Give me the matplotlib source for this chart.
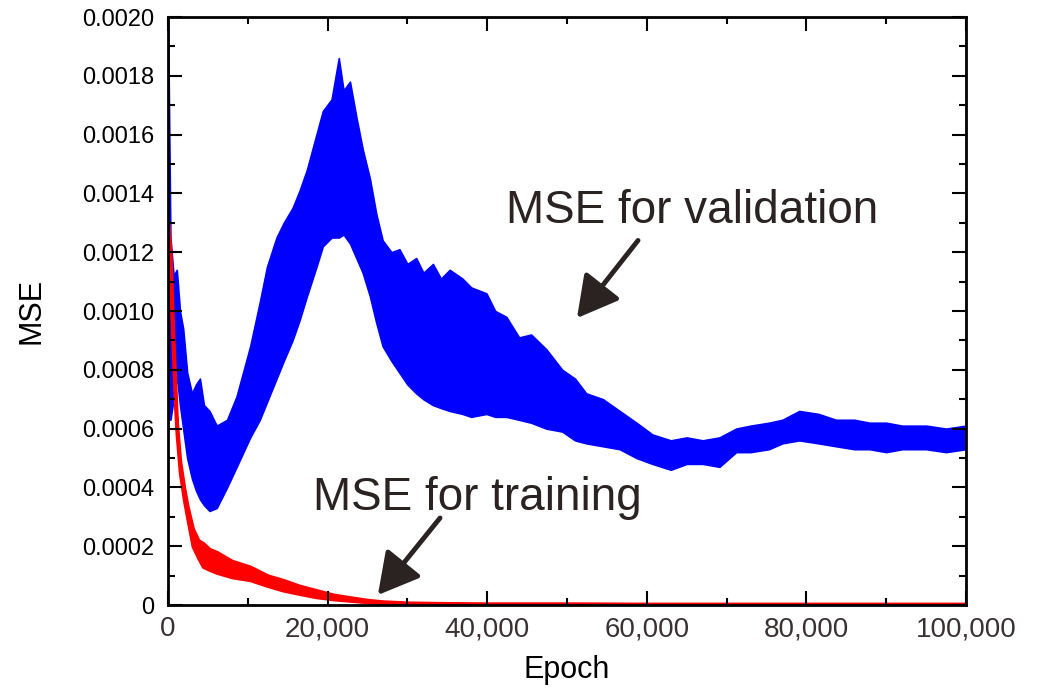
import numpy as np
import matplotlib
matplotlib.use("Agg")
import matplotlib.pyplot as plt
from matplotlib.ticker import MultipleLocator, FuncFormatter

plt.rcParams['font.family'] = ['Liberation Sans', 'DejaVu Sans']

# validation MSE band (upper / lower envelope of the oscillation)
val_epoch = [0, 300, 700, 1100, 1500, 1900, 2400, 3000, 3500, 4000, 4500, 5200,
             6100, 7400, 8600, 10300, 11500, 12400, 13600, 14500, 15600, 16500,
             17400, 18600, 19400, 20500, 21400, 22000, 22800, 23600, 24400, 25300,
             26100, 26900, 28000, 29000, 30000, 31100, 32000, 33200, 34200, 35300,
             36900, 38000, 39900, 41000, 42400, 44000, 45500, 47400, 49400, 51000,
             52400, 54500, 56600, 58700, 60700, 63000, 65000, 67000, 69100, 71200,
             73000, 75300, 77000, 79100, 81500, 83700, 86000, 87900, 90000, 92000,
             95000, 97500, 100000]
val_hi = [0.00200, 0.00125, 0.00112, 0.00114, 0.00100, 0.00094, 0.00079, 0.00072,
          0.00075, 0.00077, 0.00068, 0.00066, 0.00061, 0.00063, 0.00071, 0.00088,
          0.00103, 0.00115, 0.00125, 0.00130, 0.00135, 0.00141, 0.00148, 0.00160,
          0.00168, 0.00172, 0.00186, 0.00175, 0.00178, 0.00166, 0.00155, 0.00145,
          0.00133, 0.00124, 0.00120, 0.00121, 0.00116, 0.00118, 0.00113, 0.00116,
          0.00111, 0.00114, 0.00111, 0.00108, 0.00106, 0.00100, 0.00098, 0.00091,
          0.00092, 0.00087, 0.00080, 0.00077, 0.00072, 0.00070, 0.00066, 0.00062,
          0.00058, 0.00056, 0.00057, 0.00056, 0.00057, 0.00060, 0.00061, 0.00062,
          0.00063, 0.00066, 0.00065, 0.00063, 0.00063, 0.00062, 0.00062, 0.00061,
          0.00061, 0.00060, 0.00061]
val_lo = [0.00065, 0.00063, 0.00070, 0.00078, 0.00068, 0.00060, 0.00050, 0.00043,
          0.00039, 0.00036, 0.00034, 0.00032, 0.00033, 0.00040, 0.00047, 0.00057,
          0.00063, 0.00069, 0.00077, 0.00083, 0.00090, 0.00097, 0.00105, 0.00115,
          0.00122, 0.00125, 0.00125, 0.00126, 0.00123, 0.00118, 0.00113, 0.00105,
          0.00096, 0.00088, 0.00083, 0.00079, 0.00075, 0.00072, 0.00070, 0.00068,
          0.00067, 0.00066, 0.00065, 0.00064, 0.00065, 0.00064, 0.00064, 0.00063,
          0.00062, 0.00060, 0.00059, 0.00056, 0.00055, 0.00054, 0.00053, 0.00050,
          0.00048, 0.00046, 0.00048, 0.00048, 0.00047, 0.00052, 0.00052, 0.00053,
          0.00055, 0.00056, 0.00055, 0.00054, 0.00053, 0.00053, 0.00052, 0.00053,
          0.00053, 0.00052, 0.00053]

# training MSE band
trn_epoch = [0, 300, 600, 900, 1100, 1500, 2000, 2400, 3100, 3800, 4400, 5200,
             6100, 8000, 10300, 12500, 14400, 16500, 18600, 20700, 22800, 25000,
             26900, 30000, 35000, 40000, 50000, 60000, 80000, 100000]
trn_hi = [0.00130, 0.00120, 0.00095, 0.00075, 0.00062, 0.00049, 0.00040, 0.00034,
          0.00026, 0.00022, 0.00021, 0.00019, 0.00018, 0.00015, 0.00013, 0.00010,
          0.000085, 0.000065, 0.000050, 0.000035, 0.000026, 0.000017, 0.000012,
          0.000008, 0.000006, 0.000005, 0.000005, 0.000004, 0.000004, 0.000004]
trn_lo = [0.00125, 0.00110, 0.00088, 0.00068, 0.00058, 0.00045, 0.00036, 0.00030,
          0.00020, 0.00016, 0.00013, 0.00012, 0.00011, 0.000095, 0.000085, 0.000065,
          0.000050, 0.000038, 0.000027, 0.000020, 0.000015, 0.000010, 0.000006,
          0.000003, 0.000001, 0.000001, 0.000001, 0.000001, 0.000001, 0.000001]

text_color = '#2b2322'

fig = plt.figure(figsize=(10.4, 6.91), dpi=100)
ax = fig.add_axes([168 / 1040, 86 / 691, 798 / 1040, 588 / 691])

ax.fill_between(val_epoch, val_lo, val_hi, color='#0000ff', lw=1.2, edgecolor='#0000ff')
ax.fill_between(trn_epoch, trn_lo, trn_hi, color='#ff0000', lw=2.5, edgecolor='#ff0000')

ax.set_xlim(0, 100000)
ax.set_ylim(0, 0.0020)
ax.xaxis.set_major_locator(MultipleLocator(20000))
ax.xaxis.set_minor_locator(MultipleLocator(10000))
ax.yaxis.set_major_locator(MultipleLocator(0.0002))
ax.yaxis.set_minor_locator(MultipleLocator(0.0001))
ax.xaxis.set_major_formatter(FuncFormatter(lambda v, p: '0' if v == 0 else f'{int(v):,}'))
ax.yaxis.set_major_formatter(FuncFormatter(lambda v, p: '0' if abs(v) < 1e-9 else f'{v:.4f}'))

ax.tick_params(which='both', direction='in', top=True, right=True, width=1.5)
ax.tick_params(which='major', length=10)
ax.tick_params(which='minor', length=5)
ax.tick_params(axis='y', labelsize=17, pad=10)
ax.tick_params(axis='x', labelsize=20, pad=8, labelcolor='#3a3232')
for s in ax.spines.values():
    s.set_linewidth(2)

ax.set_xlabel('Epoch', fontsize=22)
ax.set_ylabel('MSE', fontsize=22)
ax.xaxis.set_label_coords(0.5, -0.085)
ax.yaxis.set_label_coords(-0.152, 0.5)

arrow = dict(arrowstyle='-|>,head_length=1.0,head_width=0.55', color=text_color,
             lw=3.5, mutation_scale=25, shrinkA=0, shrinkB=0)
ax.text(65660, 0.001299, 'MSE for validation', fontsize=33, color=text_color,
        ha='center', va='baseline')
ax.annotate('', xy=(51250, 0.000976), xytext=(58900, 0.00124), arrowprops=arrow)
ax.text(38720, 0.000323, 'MSE for training', fontsize=33, color=text_color,
        ha='center', va='baseline')
ax.annotate('', xy=(26300, 0.000034), xytext=(34090, 0.000296), arrowprops=arrow)

fig.savefig('out.png', dpi=100)
